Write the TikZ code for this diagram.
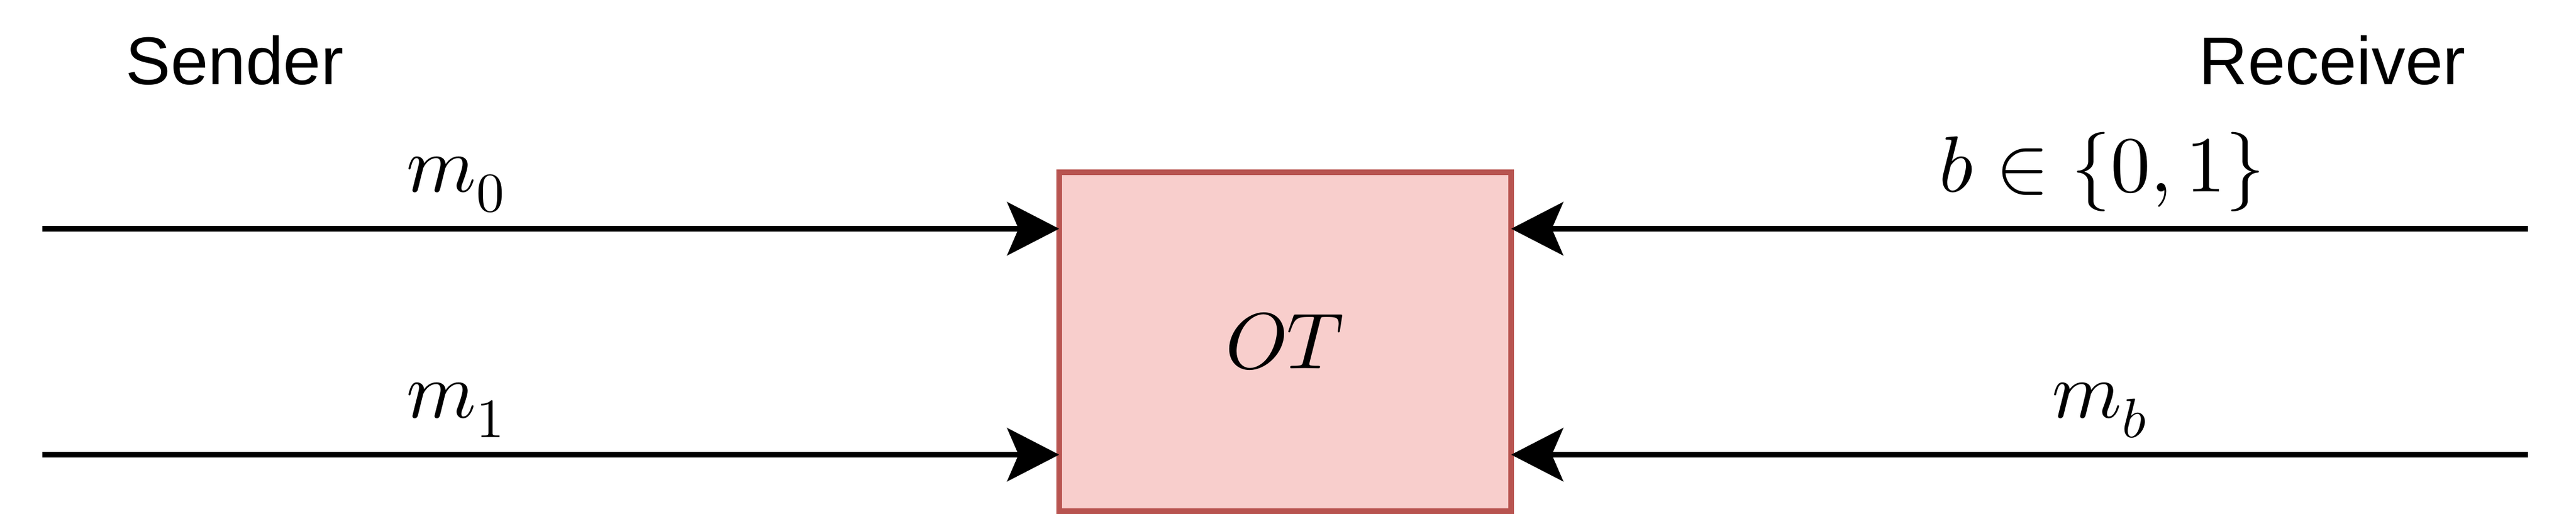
\documentclass[tikz,border=0pt]{standalone}
\usepackage{fontspec}
\usepackage{unicode-math}
\setmathfont{Latin Modern Math}
\setsansfont{Liberation Sans}
\usepackage{tikz}
\usetikzlibrary{arrows.meta,positioning,calc}
\definecolor{otfill}{HTML}{F8CECC}
\definecolor{otdraw}{HTML}{B85450}

\begin{document}
\begin{tikzpicture}[
  flow/.style={line width=0.1cm, -{Stealth[length=0.92cm, width=0.94cm, inset=0.2cm]}},
  party/.style={font=\sffamily\fontsize{34}{41}\selectfont, inner sep=0pt},
  msg/.style={font=\fontsize{40}{48}\selectfont, anchor=base, inner sep=0pt},
  ]
  \useasboundingbox (0,0) rectangle (45.6,9.1);

  % OT functionality
  \node[draw=otdraw, fill=otfill, line width=0.1cm, minimum width=8cm, minimum height=6cm,
        outer sep=0pt, font=\fontsize{40}{48}\selectfont] (ot) at (22.75,3.05) {$OT$};

  % Parties
  \node[party, anchor=base west] (sender) at (2.22,7.6) {Sender};
  \node[party, anchor=base east] (receiver) at (43.65,7.6) {Receiver};

  % Sender inputs
  \coordinate (s0) at (0.75,5.05);
  \coordinate (s1) at (0.75,1.05);
  \draw[flow] (s0) -- (s0 -| ot.west);
  \draw[flow] (s1) -- (s1 -| ot.west);

  % Receiver side
  \coordinate (r0) at (44.75,5.05);
  \coordinate (r1) at (44.75,1.05);
  \draw[flow] (r0) -- (r0 -| ot.east);
  \draw[flow] (r1) -- (r1 -| ot.east);

  % Labels
  \node[msg] (m0) at (8.07,5.7) {$m_0$};
  \node[msg] (m1) at (8.07,1.7) {$m_1$};
  \node[msg] (bit) at (37.21,5.7) {$b \in \{0, 1\}$};
  \node[msg] (mb) at (37.17,1.7) {$m_b$};
\end{tikzpicture}
\end{document}
